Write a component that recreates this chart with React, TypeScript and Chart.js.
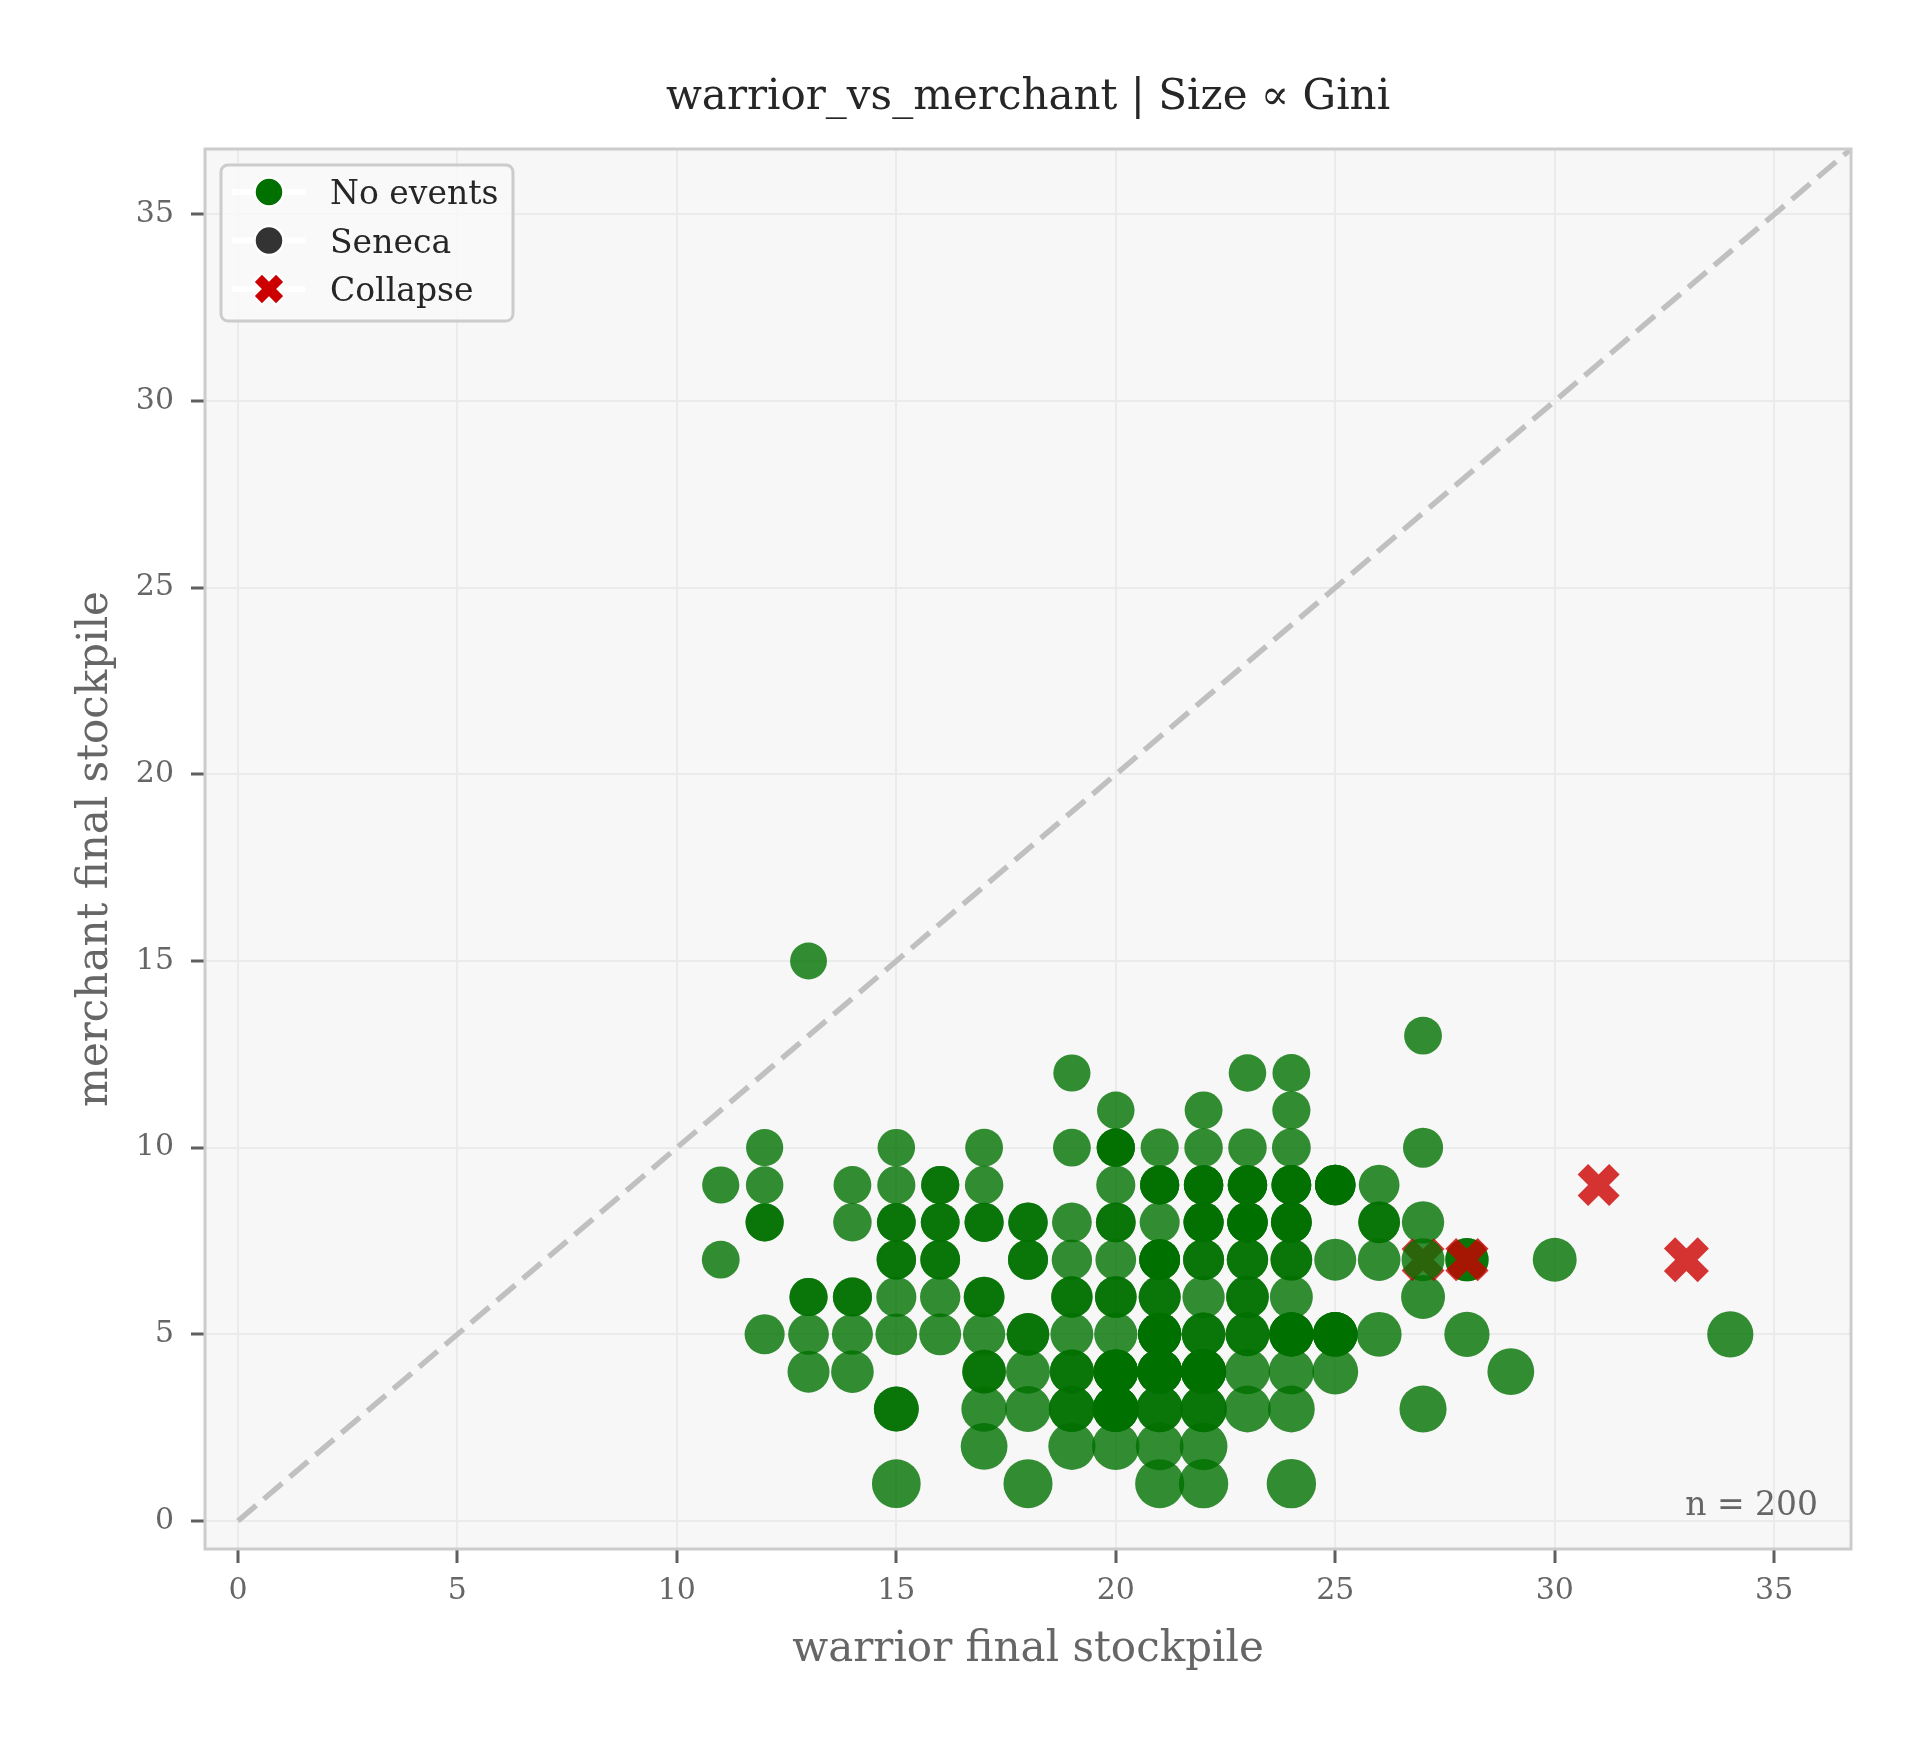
import React, { useEffect, useRef } from "react";
import { Chart, registerables } from "chart.js";

Chart.register(...registerables);

// ---------------- data ----------------
const chartTitle = "warrior_vs_merchant | Size \u221D Gini";
const xLabel = "warrior final stockpile";
const yLabel = "merchant final stockpile";
const axisTicks = [0, 5, 10, 15, 20, 25, 30, 35];
const axisMin = -0.75;
const axisMax = 36.75;

// "No events" runs, grouped by merchant final stockpile
const merchantLevels = [15, 13, 12, 11, 10, 9, 8, 7, 6, 5, 4, 3, 2, 1];
const warriorAtLevel = [
  [13],
  [27],
  [19, 23, 24],
  [20, 22, 24],
  [12, 15, 17, 19, 20, 21, 22, 23, 24, 27],
  [11, 12, 14, 15, 16, 17, 20, 21, 22, 23, 24, 25, 26],
  [12, 14, 15, 16, 17, 18, 19, 20, 21, 22, 23, 24, 26, 27],
  [11, 15, 16, 18, 19, 20, 21, 22, 23, 24, 25, 26, 27, 28, 30],
  [13, 14, 15, 16, 17, 19, 20, 21, 22, 23, 24, 27],
  [12, 13, 14, 15, 16, 17, 18, 19, 20, 21, 22, 23, 24, 25, 26, 28, 34],
  [13, 14, 17, 18, 19, 20, 21, 22, 23, 24, 25, 29],
  [15, 17, 18, 19, 20, 21, 22, 23, 24, 27],
  [17, 19, 20, 21, 22],
  [15, 18, 21, 22, 24],
];
const runsAtPoint = [
  [1],
  [1],
  [1, 1, 1],
  [1, 1, 1],
  [1, 1, 1, 1, 3, 1, 1, 1, 1, 1],
  [1, 1, 1, 1, 2, 1, 1, 3, 3, 3, 3, 4, 1],
  [2, 1, 2, 2, 2, 2, 1, 2, 1, 3, 4, 3, 2, 1],
  [1, 2, 2, 2, 1, 1, 4, 2, 2, 2, 1, 1, 1, 2, 1],
  [2, 2, 1, 1, 2, 2, 2, 2, 1, 2, 1, 1],
  [1, 1, 1, 1, 1, 1, 2, 1, 1, 4, 2, 2, 4, 4, 1, 1, 1],
  [1, 1, 2, 1, 2, 4, 4, 4, 1, 1, 1, 1],
  [2, 1, 1, 2, 4, 2, 2, 1, 1, 1],
  [1, 1, 1, 1, 1],
  [1, 1, 1, 1, 1],
];
const giniAtPoint = [
  [0.09],
  [0.12],
  [0.1, 0.11, 0.12],
  [0.11, 0.12, 0.13],
  [0.1, 0.11, 0.12, 0.12, 0.13, 0.13, 0.14, 0.14, 0.15, 0.19],
  [0.1, 0.11, 0.12, 0.13, 0.13, 0.14, 0.16, 0.16, 0.17, 0.17, 0.18, 0.2, 0.21],
  [0.13, 0.14, 0.15, 0.15, 0.16, 0.17, 0.18, 0.18, 0.19, 0.19, 0.2, 0.21, 0.24, 0.26],
  [0.12, 0.17, 0.18, 0.19, 0.2, 0.21, 0.21, 0.22, 0.23, 0.24, 0.25, 0.27, 0.28, 0.29, 0.31],
  [0.13, 0.16, 0.19, 0.2, 0.21, 0.23, 0.24, 0.25, 0.26, 0.27, 0.28, 0.31],
  [0.19, 0.21, 0.22, 0.24, 0.25, 0.26, 0.27, 0.28, 0.29, 0.29, 0.3, 0.31, 0.32, 0.33, 0.34, 0.35, 0.38],
  [0.25, 0.27, 0.3, 0.31, 0.32, 0.33, 0.34, 0.35, 0.35, 0.36, 0.37, 0.4],
  [0.34, 0.36, 0.37, 0.38, 0.38, 0.39, 0.39, 0.4, 0.4, 0.41],
  [0.4, 0.41, 0.42, 0.43, 0.43],
  [0.46, 0.47, 0.47, 0.48, 0.48],
];
// green runs whose marker lies on top of a collapse marker
const drawnAboveCollapse = [[27, 7]];

// "Collapse" runs
const collapseWarrior = [27, 28, 31, 33];
const collapseMerchant = [7, 7, 9, 7];
const collapseGini = [0.36, 0.37, 0.33, 0.43];

// "Seneca" runs (none in this pairing)
const senecaWarrior: number[] = [];
const senecaMerchant: number[] = [];
const senecaGini: number[] = [];

// ---------------- styles ----------------
const FONT = "'DejaVu Serif', 'Liberation Serif', serif";
const GREEN = "rgba(0,112,0,0.8)";
const GREEN_SOLID = "#007000";
const GREY_SOLID = "#333333";
const RED = "rgba(204,0,0,0.8)";
const RED_SOLID = "#cc0000";
const markerRadius = (g: number) => 17 + 16 * g;

type Pt = { x: number; y: number; g: number };

function buildPoints() {
  const main: Pt[] = [];
  const above: Pt[] = [];
  merchantLevels.forEach((y, i) => {
    warriorAtLevel[i].forEach((x, j) => {
      for (let k = 0; k < runsAtPoint[i][j]; k++) {
        const p = { x, y, g: giniAtPoint[i][j] };
        const isAbove = k === 0 && drawnAboveCollapse.some(([ax, ay]) => ax === x && ay === y);
        (isAbove ? above : main).push(p);
      }
    });
  });
  const collapse: Pt[] = collapseWarrior.map((x, i) => ({ x, y: collapseMerchant[i], g: collapseGini[i] }));
  const seneca: Pt[] = senecaWarrior.map((x, i) => ({ x, y: senecaMerchant[i], g: senecaGini[i] }));
  return { main, above, collapse, seneca };
}

const decorPlugin = {
  id: "decor",
  beforeDraw(chart: any) {
    const { ctx, chartArea: a, width, height } = chart;
    ctx.save();
    ctx.fillStyle = "#ffffff";
    ctx.fillRect(0, 0, width, height);
    ctx.fillStyle = "#f7f7f7";
    ctx.fillRect(a.left, a.top, a.right - a.left, a.bottom - a.top);
    ctx.restore();
  },
  afterDraw(chart: any) {
    const { ctx, chartArea: a } = chart;
    const total = (chart.$nRuns as number) || 0;
    ctx.save();
    // frame
    ctx.strokeStyle = "#cccccc";
    ctx.lineWidth = 3;
    ctx.strokeRect(a.left, a.top, a.right - a.left, a.bottom - a.top);

    const cx = (a.left + a.right) / 2;
    // title
    ctx.fillStyle = "#262626";
    ctx.font = `42px ${FONT}`;
    ctx.textAlign = "center";
    ctx.textBaseline = "alphabetic";
    ctx.fillText(chartTitle, cx, 109);
    // x label
    ctx.fillStyle = "#666666";
    ctx.fillText(xLabel, cx, 1661);
    // y label
    ctx.save();
    ctx.translate(107, (a.top + a.bottom) / 2);
    ctx.rotate(-Math.PI / 2);
    ctx.fillText(yLabel, 0, 0);
    ctx.restore();
    // n label
    ctx.font = `33px ${FONT}`;
    ctx.textAlign = "right";
    ctx.fillText(`n = ${total}`, a.left + 0.98 * (a.right - a.left), 1515);

    // legend
    const lx = 221, ly = 165, lw = 292, lh = 156;
    ctx.beginPath();
    ctx.roundRect(lx, ly, lw, lh, 7);
    ctx.fillStyle = "rgba(248,248,248,0.9)";
    ctx.fill();
    ctx.strokeStyle = "#cccccc";
    ctx.lineWidth = 3;
    ctx.stroke();
    const rows = [
      { label: "No events", kind: "circle", color: GREEN_SOLID },
      { label: "Seneca", kind: "circle", color: GREY_SOLID },
      { label: "Collapse", kind: "x", color: RED_SOLID },
    ];
    rows.forEach((r, i) => {
      const y = 192 + i * 48.5;
      ctx.strokeStyle = "#ffffff";
      ctx.lineWidth = 6;
      ctx.beginPath();
      ctx.moveTo(232, y);
      ctx.lineTo(305, y);
      ctx.stroke();
      if (r.kind === "circle") {
        ctx.beginPath();
        ctx.arc(269, y, 14.5, 0, Math.PI * 2);
        ctx.fillStyle = r.color;
        ctx.fill();
        ctx.strokeStyle = "#ffffff";
        ctx.lineWidth = 2.5;
        ctx.stroke();
      } else {
        const h = 10.6;
        ctx.lineCap = "butt";
        ctx.beginPath();
        ctx.moveTo(269 - h - 1.5, y - h - 1.5);
        ctx.lineTo(269 + h + 1.5, y + h + 1.5);
        ctx.moveTo(269 + h + 1.5, y - h - 1.5);
        ctx.lineTo(269 - h - 1.5, y + h + 1.5);
        ctx.strokeStyle = "#ffffff";
        ctx.lineWidth = 14;
        ctx.stroke();
        ctx.beginPath();
        ctx.moveTo(269 - h, y - h);
        ctx.lineTo(269 + h, y + h);
        ctx.moveTo(269 + h, y - h);
        ctx.lineTo(269 - h, y + h);
        ctx.strokeStyle = r.color;
        ctx.lineWidth = 10;
        ctx.stroke();
      }
      ctx.fillStyle = "#262626";
      ctx.font = `33px ${FONT}`;
      ctx.textAlign = "left";
      ctx.textBaseline = "alphabetic";
      ctx.fillText(r.label, 330, y + 12);
    });
    ctx.restore();
  },
};

export default function App() {
  const ref = useRef<HTMLCanvasElement>(null);

  useEffect(() => {
    const canvas = ref.current;
    if (!canvas) return;
    const { main, above, collapse, seneca } = buildPoints();
    const radius = (c: any) => markerRadius(c.raw && typeof c.raw.g === "number" ? c.raw.g : 0.2);

    const tickAfterBuild = (s: any) => {
      s.ticks = axisTicks.map((v) => ({ value: v }));
    };
    const gridOpts = {
      color: "#ebebeb",
      lineWidth: 2,
      drawTicks: true,
      tickLength: 14,
      tickColor: "#5f5f5f",
      tickWidth: 3,
    };

    const chart = new Chart(canvas, {
      type: "scatter",
      data: {
        datasets: [
          {
            label: "No events (over)",
            data: above as any,
            backgroundColor: GREEN,
            borderWidth: 0,
            pointRadius: radius,
            pointHoverRadius: radius,
            order: 0,
          },
          {
            label: "Collapse",
            data: collapse as any,
            pointStyle: "crossRot",
            borderColor: RED,
            backgroundColor: RED,
            pointBorderWidth: (c: any) => (2 * radius(c)) / 3,
            pointRadius: radius,
            pointHoverRadius: radius,
            order: 1,
          } as any,
          {
            label: "Seneca",
            data: seneca as any,
            backgroundColor: "rgba(51,51,51,0.8)",
            borderWidth: 0,
            pointRadius: radius,
            order: 2,
          },
          {
            label: "No events",
            data: main as any,
            backgroundColor: GREEN,
            borderWidth: 0,
            pointRadius: radius,
            pointHoverRadius: radius,
            order: 3,
          },
          {
            label: "diagonal",
            data: [
              { x: 0, y: 0 },
              { x: axisMax, y: axisMax },
            ],
            showLine: true,
            borderColor: "#c0c0c0",
            borderWidth: 5.5,
            borderDash: [24, 10],
            pointRadius: 0,
            order: 4,
          } as any,
        ],
      },
      options: {
        animation: false,
        responsive: false,
        devicePixelRatio: 1,
        events: [],
        layout: { padding: { top: 149, right: 73, left: 0, bottom: 0 } },
        plugins: {
          legend: { display: false },
          tooltip: { enabled: false },
          title: { display: false },
        },
        scales: {
          x: {
            type: "linear",
            min: axisMin,
            max: axisMax,
            afterBuildTicks: tickAfterBuild,
            afterFit: (s: any) => {
              s.height = 195;
            },
            grid: gridOpts,
            border: { display: false },
            ticks: {
              color: "#666666",
              font: { family: FONT, size: 30 },
              padding: 10,
              maxRotation: 0,
              callback: (v: any) => String(v),
            },
          },
          y: {
            type: "linear",
            min: axisMin,
            max: axisMax,
            afterBuildTicks: tickAfterBuild,
            afterFit: (s: any) => {
              s.width = 205;
            },
            grid: gridOpts,
            border: { display: false },
            ticks: {
              color: "#666666",
              font: { family: FONT, size: 30 },
              padding: 17,
              callback: (v: any) => String(v),
            },
          },
        },
      } as any,
      plugins: [decorPlugin],
    });
    (chart as any).$nRuns = main.length + above.length + collapse.length + seneca.length;
    chart.draw();

    return () => chart.destroy();
  }, []);

  return (
    <div style={{ position: "absolute", left: 0, top: 0, width: 1924, height: 1744 }}>
      <canvas ref={ref} width={1924} height={1744} style={{ width: 1924, height: 1744, display: "block" }} />
    </div>
  );
}
